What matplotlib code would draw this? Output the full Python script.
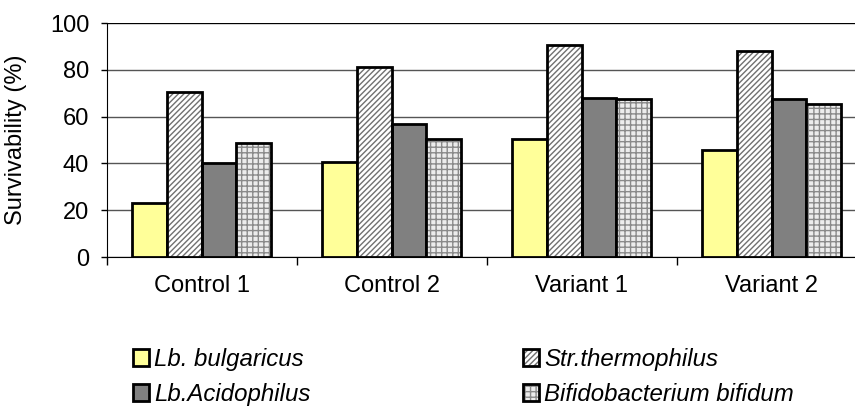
import numpy as np
import matplotlib.pyplot as plt

plt.rcParams['font.family'] = ['Liberation Sans', 'DejaVu Sans']
plt.rcParams['hatch.linewidth'] = 1.0

groups = ['Control 1', 'Control 2', 'Variant 1', 'Variant 2']
series = ['Lb. bulgaricus', 'Str.thermophilus', 'Lb.Acidophilus', 'Bifidobacterium bifidum']
bulgaricus = [23, 40.6, 50.3, 45.6]
thermophilus = [70.7, 81.3, 90.6, 87.9]
acidophilus = [40.3, 56.7, 68, 67.4]
bifidum = [48.9, 50.6, 67.7, 65.3]

values = [bulgaricus, thermophilus, acidophilus, bifidum]
faces = ['#ffff99', 'white', '#808080', '#ececec']
hatches = [None, '//////', None, '+++']
hatch_cols = [None, '#707070', None, '#8a8a8a']

FS = 17

fig = plt.figure(figsize=(8.55, 4.08), dpi=100)
ax = fig.add_axes([0.1246, 0.370, 0.889, 0.5736])

x = np.arange(len(groups))
w = 0.182
handles = []
for i, vals in enumerate(values):
    pos = x + (i - 1.5) * w
    if hatches[i]:
        hf = ax.bar(pos, vals, w, color=faces[i], hatch=hatches[i], edgecolor=hatch_cols[i], linewidth=0, zorder=3)
        ho = ax.bar(pos, vals, w, fill=False, edgecolor='black', linewidth=2, zorder=4)
        handles.append((hf, ho))
    else:
        h = ax.bar(pos, vals, w, color=faces[i], edgecolor='black', linewidth=2, zorder=3)
        handles.append(h)

ax.set_xlim(-0.5, 3.5)
ax.set_ylim(0, 100)
ax.set_yticks(np.arange(0, 101, 20))
ax.yaxis.grid(True, color='#555555', linewidth=1)
ax.set_axisbelow(True)
ax.axhline(100, color='black', linewidth=1.5, zorder=2)
for s in ['top', 'right']:
    ax.spines[s].set_visible(False)

ax.set_xticks(x)
ax.set_xticklabels(groups, fontsize=FS)
ax.set_xticks(np.arange(-0.5, 4, 1), minor=True)
ax.tick_params(axis='x', which='major', length=0, pad=13)
ax.tick_params(axis='x', which='minor', length=6, direction='out', width=1)
ax.tick_params(axis='y', labelsize=FS, length=4.5, direction='out', width=1, pad=8)
ax.set_ylabel('Survivability (%)', fontsize=FS)
ax.yaxis.set_label_coords(-0.104, 0.5)

leg_kw = dict(loc='upper left', frameon=False, handlelength=0.68, handleheight=0.68,
              handletextpad=0.2, labelspacing=0.5, borderpad=0, borderaxespad=0,
              prop={'size': 17.3, 'style': 'italic'})
leg1 = fig.legend([handles[0], handles[2]], [series[0], series[2]],
                  bbox_to_anchor=(133 / 855, 1 - 348 / 408), **leg_kw)
leg2 = fig.legend([handles[1], handles[3]], [series[1], series[3]],
                  bbox_to_anchor=(523 / 855, 1 - 348 / 408), **leg_kw)

fig.savefig('out.png', dpi=100)
